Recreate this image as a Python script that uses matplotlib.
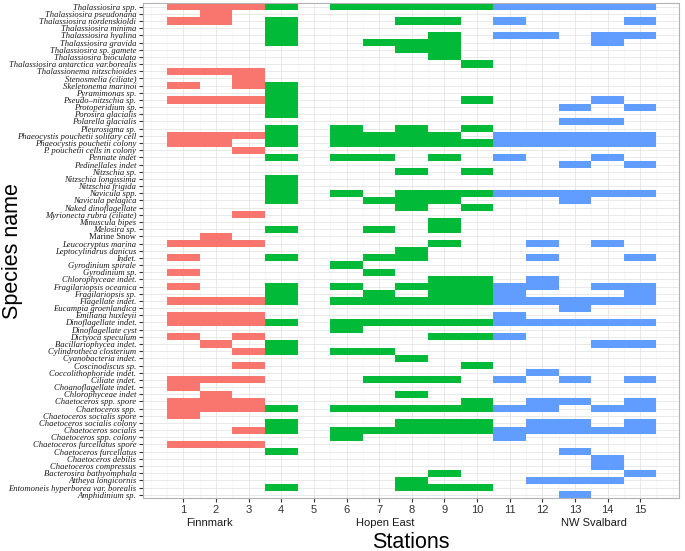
import matplotlib
matplotlib.use("Agg")
import matplotlib.pyplot as plt
from matplotlib.ticker import MultipleLocator

species = [
    "Thalassiosira spp.", "Thalassiosira pseudonana", "Thalassiosira nordenskioldi",
    "Thalassiosira minima", "Thalassiosira hyalina", "Thalassiosira gravida",
    "Thalassiosira sp. gamete", "Thalassiosira bioculata",
    "Thalassiosira antarctica var.borealis", "Thalassionema nitzschioides",
    "Stenosmelia (ciliate)", "Skeletonema marinoi", "Pyramimonas sp.",
    "Pseudo\u2013nitzschia sp.", "Protoperidium sp.", "Porosira glacialis",
    "Polarella glacialis", "Pleurosigma sp.", "Phaeocystis pouchetii solitary cell",
    "Phaeocystis pouchetii colony", "P. pouchetii cells in colony", "Pennate indet",
    "Pedinellales indet", "Nitzschia sp.", "Nitzschia longissima", "Nitzschia frigida",
    "Navicula spp.", "Navicula pelagica", "Naked dinoflagellate",
    "Myrionecta rubra (ciliate)", "Minuscula bipes", "Melosira sp.", "Marine Snow",
    "Leucocryptus marina", "Leptocylindrus danicus", "Indet.", "Gyrodinium spirale",
    "Gyrodinium sp.", "Chlorophyceae indet.", "Fragilariopsis oceanica",
    "Fragilariopsis sp.", "Flagellate indet.", "Eucampia groenlandica",
    "Emiliana huxleyii", "Dinoflagellate indet.", "Dinoflagellate cyst",
    "Dictyoca speculum", "Bacillariophycea indet.", "Cylindrotheca closterium",
    "Cyanobacteria indet.", "Coscinodiscus sp.", "Coccolithophoride indet.",
    "Ciliate indet.", "Choanoflagellate indet.", "Chlorophyceae indet",
    "Chaetoceros spp. spore", "Chaetoceros spp.", "Chaetoceros socialis spore",
    "Chaetoceros socialis colony", "Chaetoceros socialis", "Chaetoceros spp. colony",
    "Chaetoceros furcellatus spore", "Chaetoceros furcellatus", "Chaetoceros debilis",
    "Chaetoceros compressus", "Bacterosira bathyomphala", "Attheya longicornis",
    "Entomoneis hyperborea var. borealis", "Amphidinium sp.",
]

# stations where each species was present (same order as species)
present = [
    [1, 2, 3, 4, 6, 7, 8, 9, 10, 11, 12, 13, 14, 15],
    [2],
    [1, 2, 4, 8, 9, 11, 15],
    [4],
    [4, 9, 11, 12, 14, 15],
    [4, 7, 8, 9, 14],
    [8, 9],
    [9],
    [10],
    [1, 2, 3],
    [3],
    [1, 3, 4],
    [4],
    [1, 2, 3, 4, 10, 14],
    [4, 13, 15],
    [4],
    [13, 14],
    [4, 6, 8, 10],
    [1, 2, 3, 4, 6, 7, 8, 9, 11, 12, 13, 14, 15],
    [1, 2, 4, 6, 7, 8, 9, 10, 11, 12, 13, 14, 15],
    [3],
    [4, 6, 7, 9, 11, 14],
    [13, 15],
    [8, 10],
    [4],
    [4],
    [4, 6, 8, 9, 10, 11, 12, 13, 14, 15],
    [4, 7, 8, 9, 13],
    [8, 10],
    [3],
    [9],
    [4, 7, 9],
    [2],
    [1, 2, 3, 9, 12, 14],
    [8],
    [1, 4, 7, 8, 12, 15],
    [6],
    [1, 7],
    [9, 10, 12],
    [1, 4, 6, 8, 9, 10, 11, 12, 14, 15],
    [4, 7, 9, 10, 11, 15],
    [1, 2, 3, 4, 6, 7, 8, 9, 10, 11, 12, 13, 14, 15],
    [13],
    [1, 2, 3, 11],
    [1, 2, 3, 4, 6, 7, 8, 9, 10, 11, 12, 13, 14, 15],
    [6],
    [1, 3, 9, 10, 11],
    [2, 4, 14, 15],
    [3, 4, 6, 7],
    [8],
    [3, 10],
    [12],
    [1, 2, 3, 7, 8, 9, 11, 13, 15],
    [1],
    [2, 8],
    [1, 2, 3, 10, 12, 13, 15],
    [1, 2, 3, 4, 6, 7, 8, 9, 10, 11, 12, 14, 15],
    [1],
    [4, 8, 9, 10, 12, 13, 15],
    [3, 4, 6, 7, 8, 9, 10, 11, 12, 13, 14, 15],
    [6, 11],
    [1, 2, 3],
    [4, 13],
    [14],
    [14],
    [9, 15],
    [8, 12, 13, 14],
    [4, 8, 9, 10],
    [13],
]

regions = ["Finnmark", "Hopen East", "NW Svalbard"]
region_stations = [[1, 2, 3], [4, 5, 6, 7, 8, 9, 10], [11, 12, 13, 14, 15]]
region_colors = ["#F8766D", "#00BA38", "#619CFF"]
region_label_x = [1.8, 7.17, 13.57]
station_ticks = list(range(1, 16))

fig = plt.figure(figsize=(6.85, 5.51), dpi=100)
ax = fig.add_axes([0.2092, 0.0956, 0.9917 - 0.2092, 0.9951 - 0.0956])

for reg, sts, col in zip(regions, region_stations, region_colors):
    ys, xs = [], []
    for i, st_list in enumerate(present):
        for s in st_list:
            if s in sts:
                ys.append(i)
                xs.append(s)
    ax.barh(ys, [1] * len(xs), left=[x - 0.5 for x in xs], height=1.0,
            color=col, linewidth=0, zorder=2)

ax.set_xlim(-0.23, 16.2)
ax.set_ylim(len(species) - 0.5, -0.55)

ax.set_yticks(range(len(species)))
ax.set_yticklabels(species)
for lab in ax.get_yticklabels():
    t = lab.get_text()
    lab.set_fontfamily("Liberation Serif")
    lab.set_fontstyle("normal" if t == "Marine Snow" else "italic")
    lab.set_fontsize(6.2)
    lab.set_color("#1a1a1a")

ax.set_xticks(station_ticks)
ax.set_xticklabels([str(s) for s in station_ticks], fontsize=8,
                   fontfamily="Liberation Sans", color="#333333")
ax.xaxis.set_minor_locator(MultipleLocator(0.5))
ax.tick_params(axis="x", which="minor", length=0)
ax.tick_params(axis="both", which="major", length=3, width=0.8, color="#333333", pad=2)

ax.grid(True, which="major", color="#E5E5E5", linewidth=0.6, zorder=0)
ax.grid(True, which="minor", axis="x", color="#F2F2F2", linewidth=0.4, zorder=0)
ax.set_axisbelow(True)
for sp in ax.spines.values():
    sp.set_color("#B3B3B3")
    sp.set_linewidth(0.8)

for reg, xc in zip(regions, region_label_x):
    ax.text(xc, -0.049, reg, transform=ax.get_xaxis_transform(), ha="center",
            va="center", fontsize=8, fontfamily="Liberation Sans", color="#1a1a1a")

fig.text((143.3 + 679.3) / 2 / 685, 1 - 542 / 551, "Stations", ha="center", va="center",
         fontsize=15.5, fontfamily="Liberation Sans")
fig.text(13 / 685, 1 - 251 / 551, "Species name", ha="center", va="center",
         rotation=90, fontsize=15.5, fontfamily="Liberation Sans")

fig.savefig("out.png", dpi=100)
